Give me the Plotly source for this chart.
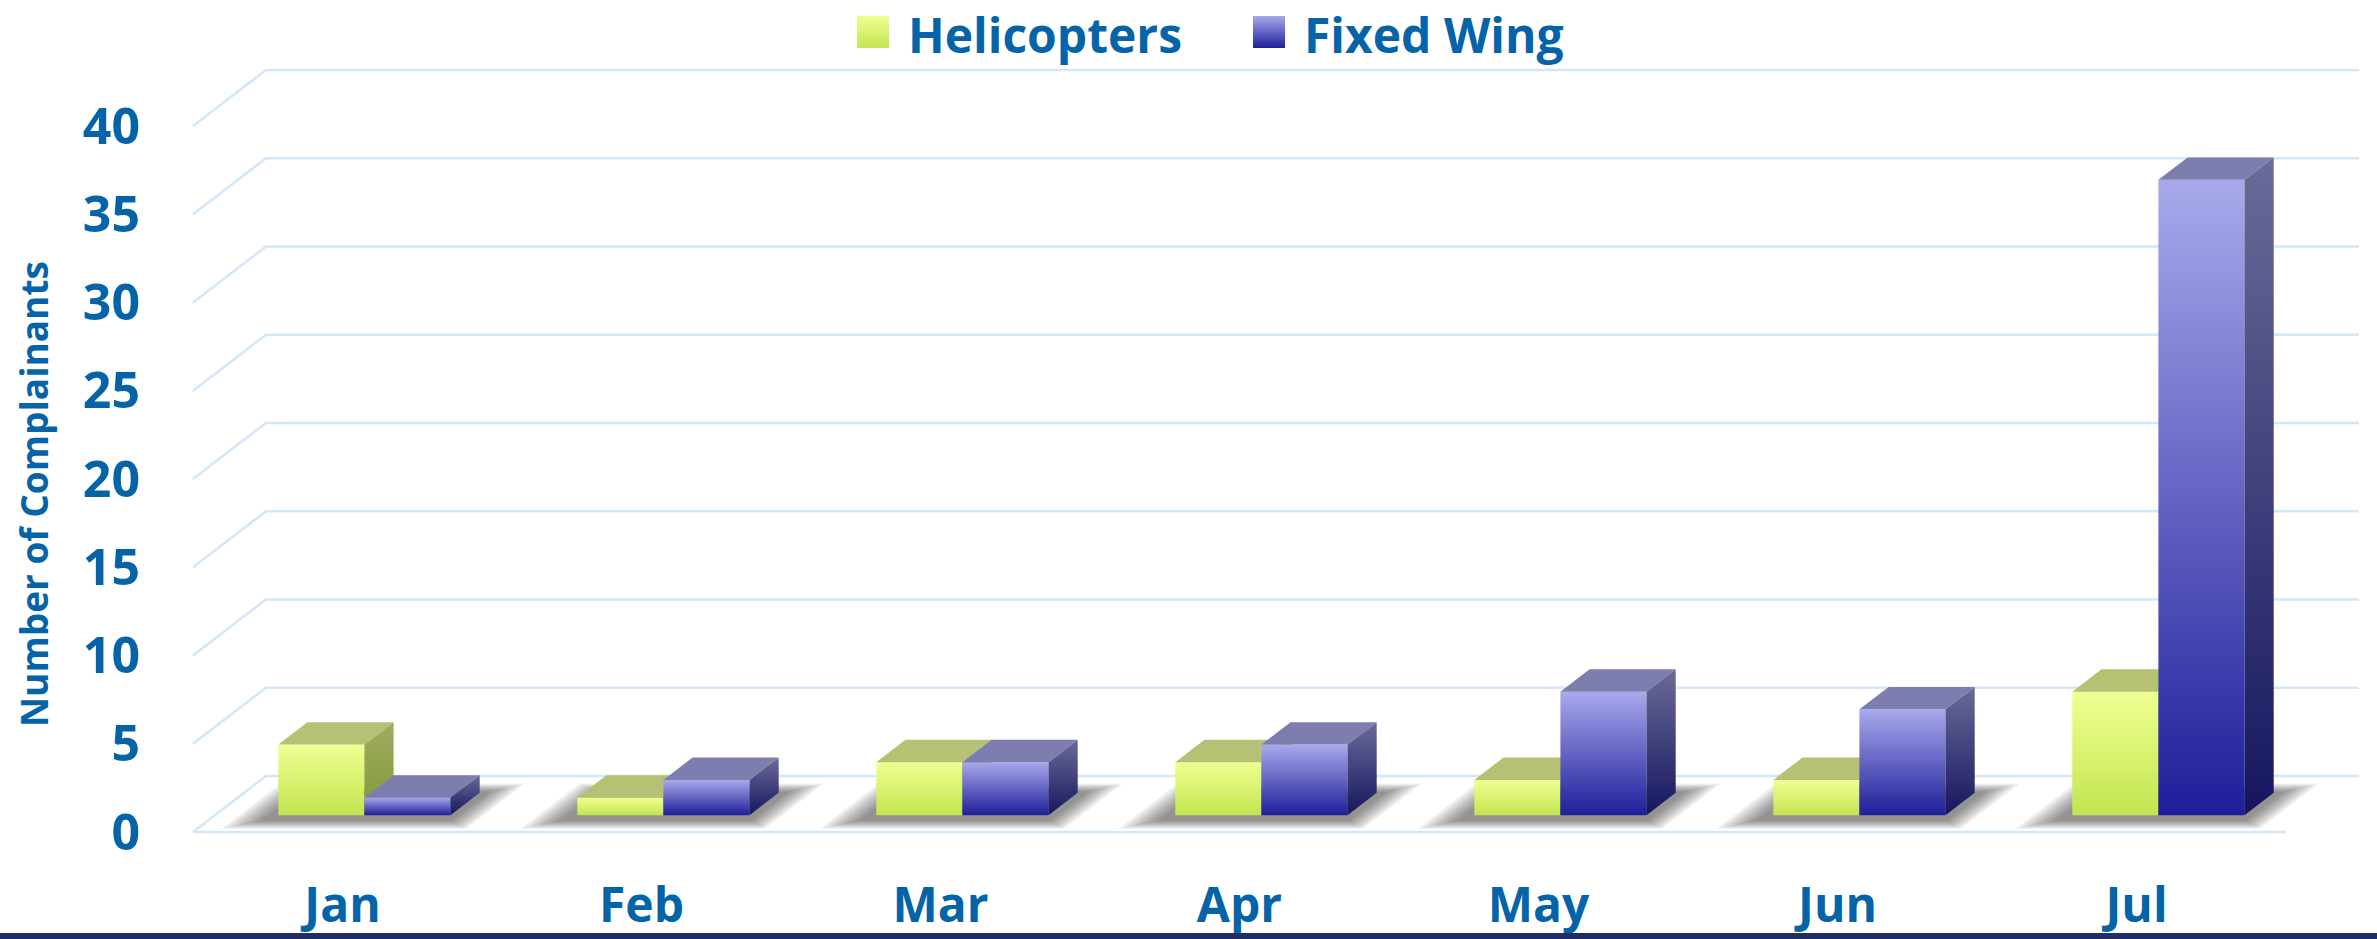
import plotly.graph_objects as go

# ---------------- data ----------------
months = ["Jan", "Feb", "Mar", "Apr", "May", "Jun", "Jul"]
helicopters = [4, 1, 3, 3, 2, 2, 7]
fixed_wing = [1, 2, 3, 4, 7, 6, 36]
y_ticks = [0, 5, 10, 15, 20, 25, 30, 35, 40]
series_names = ["Helicopters", "Fixed Wing"]
y_title = "Number of Complainants"

# ---------------- geometry (layout only) ----------------
W, H = 2377, 939
OX, OY = 193, 832          # pixel of the front-plane origin (category 0, value 0)
PX_CAT = 299               # pixels per category on the front plane
PX_VAL = 17.65             # pixels per value unit
L, R, T, B = 155, 2370, 5, 873   # plot area in pixels

xr = [(L - OX) / PX_CAT, (R - OX) / PX_CAT]
yr = [(OY - B) / PX_VAL, (OY - T) / PX_VAL]

DX = 73 / PX_CAT           # full-depth x shift in data units
DY = 56 / PX_VAL           # full-depth y shift in data units
D0, D1 = 0.30, 0.70        # bar depth band
BAR_W = 0.288              # single bar width (category units)

TEXT_COLOR = "#0563A8"
GRID_COLOR = "#D2E7FA"
FONT = "Open Sans"

def fl(u, d, v=0.0):
    """project a point (front x u, depth d, value v) to 2D data coords"""
    return (u + d * DX, v + d * DY)

def px2x(px):
    return (px - OX) / PX_CAT

def px2y(py):
    return (OY - py) / PX_VAL

def paper_x(px):
    return (px - L) / (R - L)

def paper_y(py):
    return (B - py) / (B - T)

fig = go.Figure()

def poly(pts, color=None, grad=None):
    xs = [p[0] for p in pts] + [pts[0][0]]
    ys = [p[1] for p in pts] + [pts[0][1]]
    kw = dict(x=xs, y=ys, mode="lines", fill="toself", line=dict(width=0),
              hoverinfo="skip", showlegend=False)
    if grad is not None:
        kw["fillgradient"] = dict(type="vertical", colorscale=grad)
        kw["fillcolor"] = grad[-1][1]
    else:
        kw["fillcolor"] = color
    fig.add_trace(go.Scatter(**kw))

# ---------------- gridlines (back wall + left wall + floor) ----------------
gx, gy = [], []
n = len(months)
for v in y_ticks:
    a = fl(0, 1, v); b = fl(n, 1, v); c = fl(0, 0, v)
    gx += [c[0], a[0], b[0], None]
    gy += [c[1], a[1], b[1], None]
f0 = fl(0, 0, 0); f1 = fl(n, 0, 0)
gx += [f0[0], f1[0], None]
gy += [f0[1], f1[1], None]
fig.add_trace(go.Scatter(x=gx, y=gy, mode="lines",
                         line=dict(color=GRID_COLOR, width=2.5),
                         hoverinfo="skip", showlegend=False))

# ---------------- floor shadows ----------------
layers = 8
for i in range(n):
    c = i + 0.5
    for k in range(layers):
        t = k / (layers - 1)
        ul = c - BAR_W - 0.13 + t * 0.095
        ur = c + BAR_W + 0.11 - t * 0.08
        da = 0.06 + t * 0.14
        db = 0.86 - t * 0.14
        pts = [fl(ul, da), fl(ur, da), fl(ur, db), fl(ul, db)]
        poly(pts, color="rgba(40,40,40,0.08)")

# ---------------- 3D bars ----------------
styles = {
    "Helicopters": dict(
        front=[[0, "#C3E54F"], [1, "#F0FF92"]],
        top="#B6C173",
        side=[[0, "#7F9B36"], [1, "#A0AC62"]],
    ),
    "Fixed Wing": dict(
        front=[[0, "#1E1E9A"], [1, "#A9A9EC"]],
        top="#7D7DB0",
        side=[[0, "#161660"], [1, "#6B6B98"]],
    ),
}

for i in range(n):
    c = i + 0.5
    for name, vals, u0, u1 in (("Helicopters", helicopters, c - BAR_W, c),
                               ("Fixed Wing", fixed_wing, c, c + BAR_W)):
        v = vals[i]
        st = styles[name]
        poly([fl(u0, D0, 0), fl(u1, D0, 0), fl(u1, D0, v), fl(u0, D0, v)], grad=st["front"])
        poly([fl(u0, D0, v), fl(u1, D0, v), fl(u1, D1, v), fl(u0, D1, v)], color=st["top"])
        poly([fl(u1, D0, 0), fl(u1, D1, 0), fl(u1, D1, v), fl(u1, D0, v)], grad=st["side"])

# ---------------- legend (manual) ----------------
legend_items = [
    ("Helicopters", 857, 906, styles["Helicopters"]["front"]),
    ("Fixed Wing", 1253, 1302, styles["Fixed Wing"]["front"]),
]
annotations = []
for name, sq_x, tx, grad in legend_items:
    x0, x1 = px2x(sq_x), px2x(sq_x + 32)
    y0, y1 = px2y(48), px2y(16)
    poly([(x0, y0), (x1, y0), (x1, y1), (x0, y1)], grad=grad)
    annotations.append(dict(x=paper_x(tx), y=paper_y(0), xref="paper", yref="paper",
                            text=name, showarrow=False, xanchor="left", yanchor="top",
                            font=dict(family=FONT, size=48, color=TEXT_COLOR, weight="bold")))

annotations.append(dict(x=paper_x(33), y=paper_y(494), xref="paper", yref="paper",
                        text=y_title, textangle=-90, showarrow=False,
                        xanchor="center", yanchor="middle",
                        font=dict(family=FONT, size=37, color=TEXT_COLOR, weight="bold")))

shapes = [
    dict(type="rect", xref="paper", yref="paper",
         x0=paper_x(0), x1=paper_x(W), y0=paper_y(939), y1=paper_y(933),
         fillcolor="#1F2E66", line=dict(width=0), layer="above"),
]

fig.update_layout(
    width=W, height=H,
    margin=dict(l=L, r=W - R, t=T, b=H - B, autoexpand=False),
    paper_bgcolor="white", plot_bgcolor="white",
    showlegend=False, hovermode=False,
    annotations=annotations, shapes=shapes,
    xaxis=dict(range=xr, showgrid=False, zeroline=False, showline=False, automargin=False,
               tickmode="array", tickvals=[i + 0.5 for i in range(n)], ticktext=months,
               tickfont=dict(family=FONT, size=48, color=TEXT_COLOR, weight="bold"),
               ticks=""),
    yaxis=dict(range=yr, showgrid=False, zeroline=False, showline=False, automargin=False,
               tickmode="array", tickvals=y_ticks, ticktext=[str(t) for t in y_ticks],
               tickfont=dict(family=FONT, size=50, color=TEXT_COLOR, weight="bold"),
               ticks="", ticklabelstandoff=14),
)

fig.write_html("out.html", config={"displayModeBar": False},
               post_script="document.body.style.margin='0';")
